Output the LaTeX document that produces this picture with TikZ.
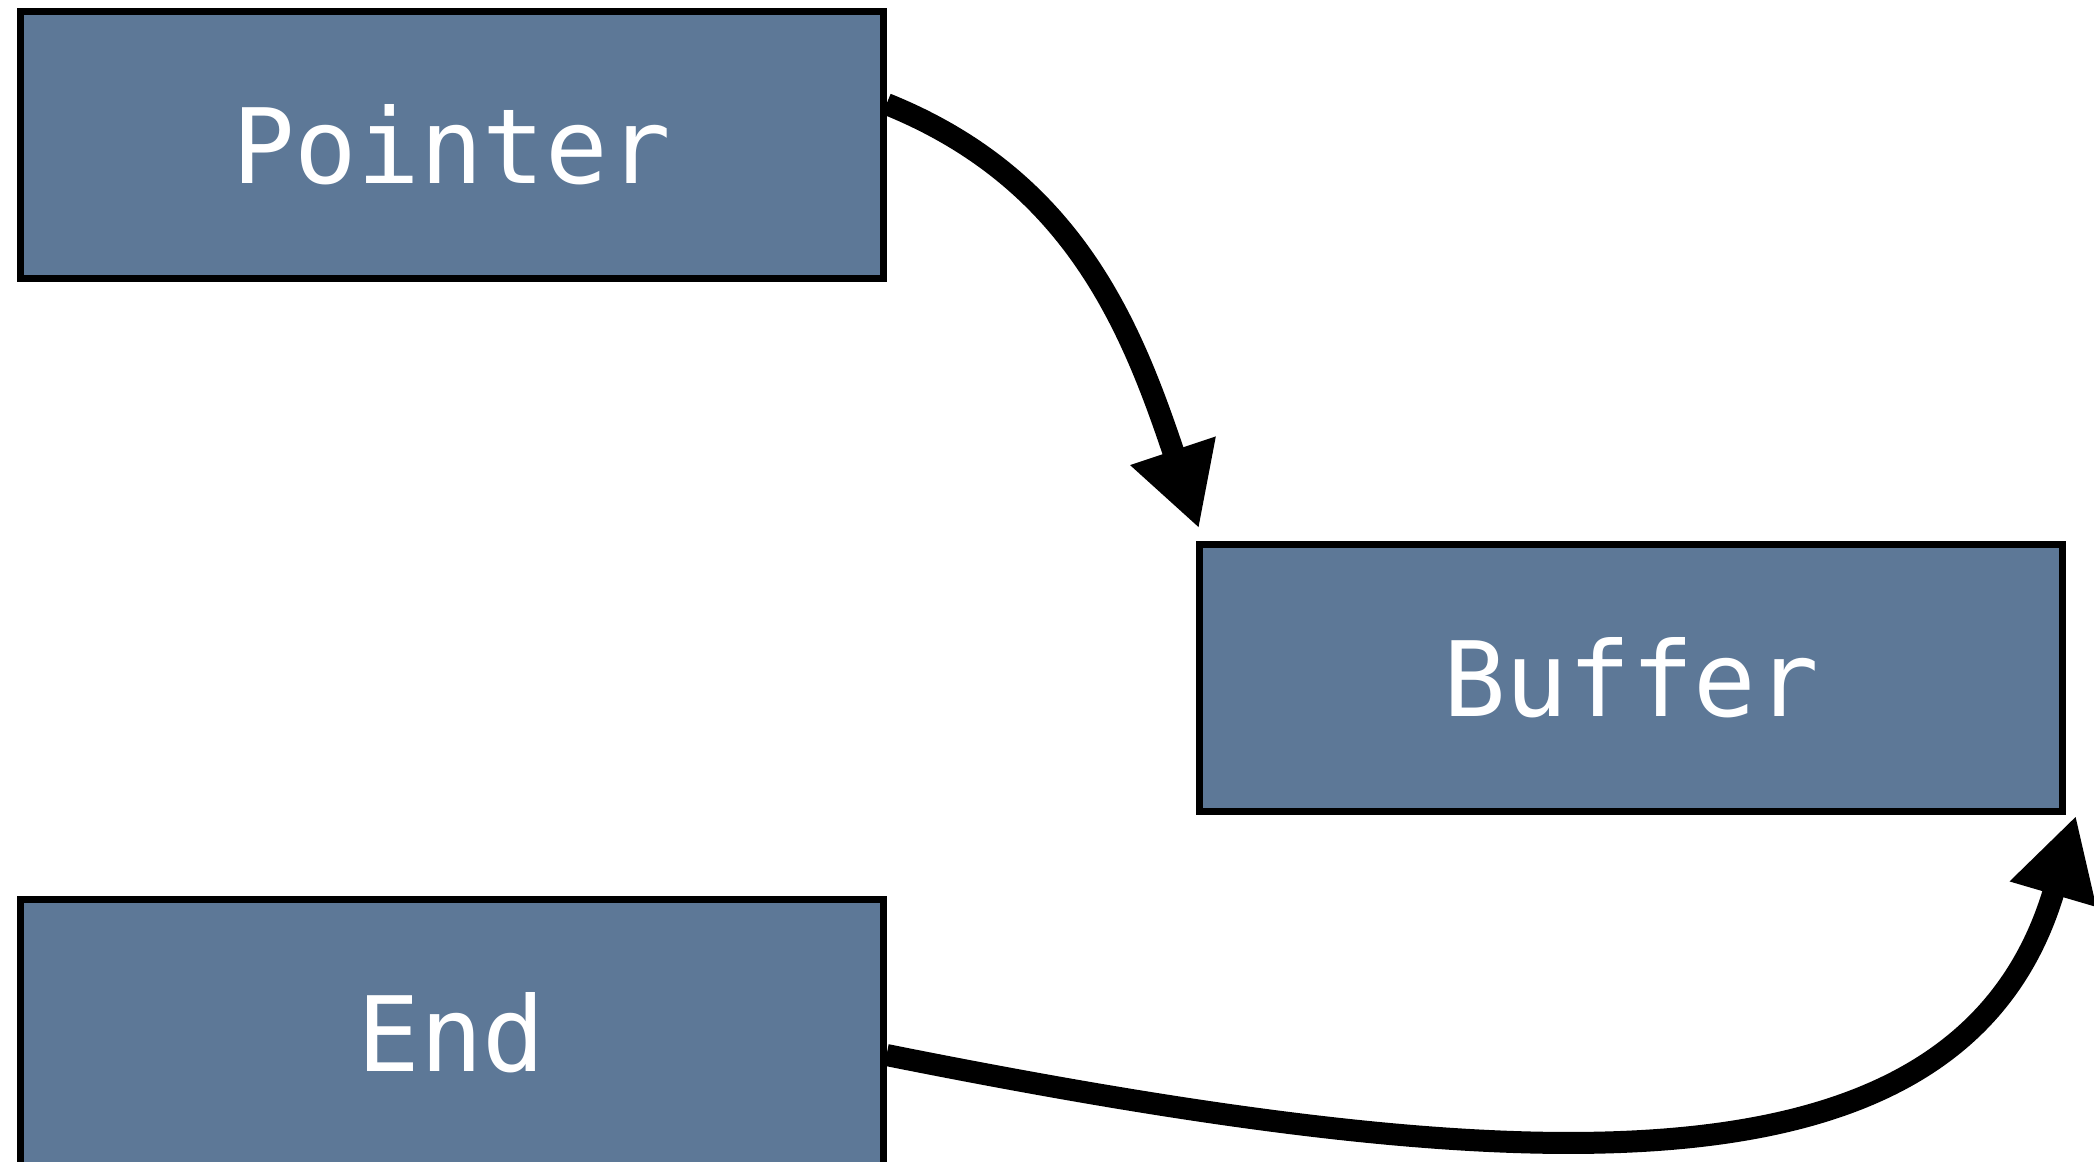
\documentclass[tikz,border=0pt]{standalone}
\usepackage{fontspec}
\setmonofont{DejaVu Sans Mono}
\usetikzlibrary{arrows.meta}
\definecolor{boxfill}{RGB}{93,120,151}
\tikzset{
  membox/.style={draw=black, line width=3.5pt, fill=boxfill, text=white,
    minimum width=431.5pt, minimum height=133.5pt, inner sep=0pt,
    font=\ttfamily\fontsize{52}{60}\selectfont},
  link/.style={line width=11pt, -{Triangle[length=41pt,width=42pt]}}
}
\begin{document}
\begin{tikzpicture}[x=0.5pt,y=-0.5pt]
\useasboundingbox (0,0) rectangle (2094,1162);
\node[membox] (P) at (451.5,144.5) {Pointer};
\node[membox] (B) at (1631,677.5) {Buffer};
\node[membox] (E) at (451.5,1032.5) {End};
\coordinate (ptip) at ([shift={(3,-12)}]B.north west);
\coordinate (etip) at ([shift={(10,1)}]B.south east);
\draw[link] ([yshift=20.25pt]P.east) .. controls +(186,75) and +(-68,-203) .. (ptip);
\draw[link] ([yshift=-11.25pt]E.east) .. controls +(655,131) and +(-113,385) .. (etip);
\end{tikzpicture}
\end{document}
